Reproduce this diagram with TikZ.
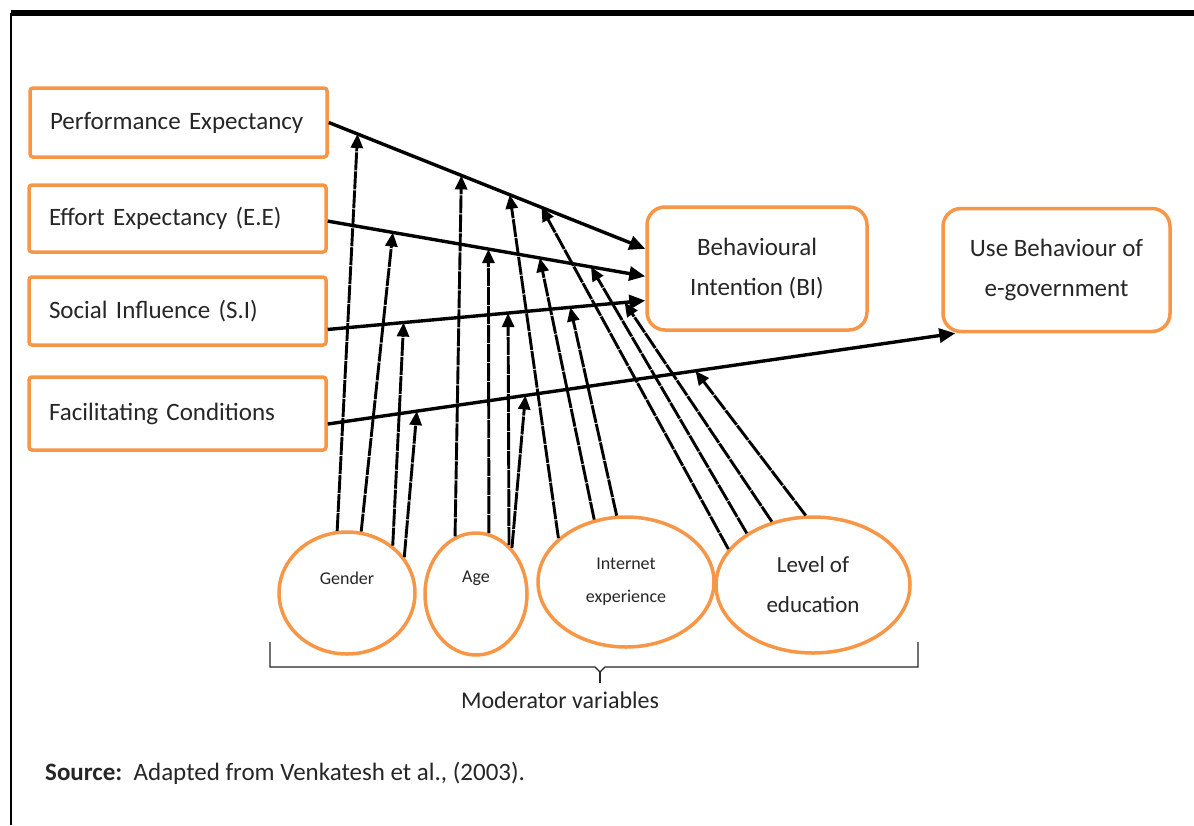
\documentclass[tikz,border=0pt]{standalone}
\usepackage{fontspec}
\setmainfont{Carlito}
\usetikzlibrary{arrows.meta,shapes.geometric,calc}
\definecolor{boxorange}{HTML}{F79646}
\definecolor{txt}{HTML}{262626}
\begin{document}
\begin{tikzpicture}[x=1pt,y=-1pt,
  sbox/.style={draw=boxorange,line width=3.5pt,rounded corners=3pt,text width=257pt,inner xsep=20pt,inner ysep=0pt,align=left,font={\fontsize{25}{30}\selectfont},text=txt},
  bbox/.style={draw=boxorange,line width=3.5pt,rounded corners=18pt,minimum height=123pt,inner sep=0pt,align=center,font={\fontsize{25}{40}\selectfont},text=txt},
  oval/.style={draw=boxorange,line width=3.5pt,ellipse,inner sep=0pt,align=center,text=txt},
  lbl/.style={text=txt,inner sep=0pt,align=center},
  main/.style={line width=3.4pt,-{Triangle[length=16pt,width=14pt]}},
  mod/.style={line width=2.9pt,dash pattern=on 18pt off 1pt,-{Triangle[length=14pt,width=12pt]}},
]
\useasboundingbox (0,0) rectangle (1194,825);
\fill[white] (0,0) rectangle (1194,825);
% frame
\draw[line width=6pt] (11,13) -- (1194,13);
\draw[line width=1.5pt] (11,13) -- (11,825);
% construct boxes
\node[sbox,minimum height=69pt] (PE) at (178.5,122.5) {Performance Expectancy};
\node[sbox,minimum height=67pt] (EE) at (177.5,218.5) {Effort Expectancy (E.E)};
\node[sbox,minimum height=68pt] (SI) at (177.5,311) {Social Influence (S.I)};
\node[sbox,minimum height=73pt] (FC) at (177.5,413.5) {Facilitating Conditions};
\node[bbox,minimum width=220pt] (BI) at (757,268.5) {Behavioural\\Intention (BI)};
\node[bbox,minimum width=227pt] (UB) at (1056.5,270) {Use Behaviour of\\e-government};
% moderators
\node[oval,minimum width=136pt,minimum height=122pt] (GEN) at (347,593) {};
\node[lbl,font={\fontsize{18}{22}\selectfont}] (GENt) at (347,578) {Gender};
\node[oval,minimum width=102pt,minimum height=122pt] (AGE) at (476,594) {};
\node[lbl,font={\fontsize{18}{22}\selectfont}] (AGEt) at (476,578) {Age};
\node[oval,minimum width=176pt,minimum height=130pt,font={\fontsize{18}{33}\selectfont}] (INT) at (626,582) {Internet\\experience};
\node[oval,minimum width=194pt,minimum height=136pt,font={\fontsize{23}{40}\selectfont}] (LEV) at (813,585) {Level of\\education};
% main arrows
\draw[main] (PE.east) -- (BI.170.5);
\draw[main] (EE.-1.4) -- (BI.184.4);
\draw[main] (SI.-7.3) -- (BI.196);
\draw[main] (FC.-4.5) -- (UB.212);
% points on main arrows
\coordinate (p1) at ($(PE.east)!0.091!(BI.170.5)$);
\coordinate (p2) at ($(PE.east)!0.419!(BI.170.5)$);
\coordinate (p3) at ($(PE.east)!0.572!(BI.170.5)$);
\coordinate (p4) at ($(PE.east)!0.672!(BI.170.5)$);
\coordinate (e1) at ($(EE.-1.4)!0.205!(BI.184.4)$);
\coordinate (e2) at ($(EE.-1.4)!0.506!(BI.184.4)$);
\coordinate (e3) at ($(EE.-1.4)!0.668!(BI.184.4)$);
\coordinate (e4) at ($(EE.-1.4)!0.829!(BI.184.4)$);
\coordinate (s1) at ($(SI.-7.3)!0.239!(BI.196)$);
\coordinate (s2) at ($(SI.-7.3)!0.568!(BI.196)$);
\coordinate (s3) at ($(SI.-7.3)!0.764!(BI.196)$);
\coordinate (s4) at ($(SI.-7.3)!0.935!(BI.196)$);
\coordinate (f1) at ($(FC.-4.5)!0.142!(UB.212)$);
\coordinate (f2) at ($(FC.-4.5)!0.315!(UB.212)$);
\coordinate (f3) at ($(FC.-4.5)!0.586!(UB.212)$);
% moderator arrows
\draw[mod] (GEN.99.5) -- (p1);
\draw[mod] (GEN.77.7) -- (e1);
\draw[mod] (GEN.46) -- (s1);
\draw[mod] (GEN.32) -- (f1);
\draw[mod] (AGE.110.7) -- (p2);
\draw[mod] (AGE.78.6) -- (e2);
\draw[mod] (AGE.56) -- (s2);
\draw[mod] (AGE.52) -- (f2);
\draw[mod] (INT.147) -- (p3);
\draw[mod] (INT.117) -- (e3);
\draw[mod] (INT.98) -- (s3);
\draw[mod] (LEV.157) -- (p4);
\draw[mod] (LEV.142) -- (e4);
\draw[mod] (LEV.123.5) -- (s4);
\draw[mod] (LEV.96.7) -- (f3);
% brace
\draw[line width=1.3pt,txt] (270,642) -- (270,667) -- (595,667) -- (600,672) -- (605,667) -- (918,667) -- (918,642);
\draw[line width=1.3pt,txt] (600,672) -- (600,683);
\node[lbl,font={\fontsize{24}{28}\selectfont}] (MOD) at (560,700) {Moderator variables};
\node[lbl,anchor=west,font={\fontsize{25}{30}\selectfont}] (SRC) at (45,773) {\textbf{Source:}\ \ Adapted from Venkatesh et al., (2003).};
\end{tikzpicture}
\end{document}
